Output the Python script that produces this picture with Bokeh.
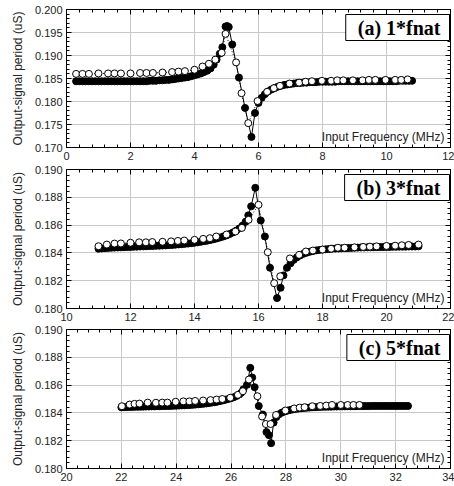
from bokeh.plotting import figure
from bokeh.models import (Range1d, LinearAxis, SingleIntervalTicker, NumeralTickFormatter, Label,
                          CustomJSTickFormatter)
from bokeh.layouts import column
from bokeh.embed import file_html
from bokeh.resources import INLINE

# ---------------- data ----------------
# panel (a) 1*fnat
B1_X = [0.3, 0.4, 0.5, 0.6, 0.7, 0.8, 0.9, 1.0, 1.1, 1.2, 1.3, 1.4, 1.5, 1.6, 1.7, 1.8, 1.9, 2.0, 2.1, 2.2, 2.3, 2.4, 2.5,
        2.6, 2.7, 2.8, 2.9, 3.0, 3.1, 3.2, 3.3, 3.4, 3.5, 3.6, 3.7, 3.8, 3.9, 4.0, 4.1, 4.2, 4.3, 4.4, 4.5,
        4.6, 4.69, 4.79, 4.87, 4.97, 5.02, 5.07, 5.18, 5.39, 5.58, 5.78, 5.89,
        6.0, 6.1, 6.2, 6.3, 6.4, 6.5, 6.6, 6.7, 6.8, 6.9, 7.0, 7.1, 7.2, 7.3, 7.4, 7.5, 7.6, 7.7, 7.8, 7.9,
        8.0, 8.1, 8.2, 8.3, 8.4, 8.5, 8.6, 8.7, 8.8, 8.9, 9.0, 9.1, 9.2, 9.3, 9.4, 9.5, 9.6, 9.7, 9.8, 9.9,
        10.0, 10.1, 10.2, 10.3, 10.4, 10.5, 10.6, 10.7, 10.8]
B1_Y = [0.1844, 0.1844, 0.1844, 0.1844, 0.1844, 0.1844, 0.1844, 0.1844, 0.1844, 0.1844, 0.1844, 0.1844, 0.1844,
        0.1844, 0.1844, 0.1844, 0.1844, 0.1844, 0.1844, 0.1844, 0.1844, 0.1844, 0.1844,
        0.1845, 0.1845, 0.1845, 0.1846, 0.1846, 0.1847, 0.1847, 0.1848, 0.1849, 0.1850, 0.1851, 0.1852, 0.1853,
        0.1855, 0.1857, 0.1859, 0.1861, 0.1864, 0.1867, 0.1872,
        0.1880, 0.1891, 0.1904, 0.1918, 0.1963, 0.1964, 0.1962, 0.1924, 0.1852, 0.1786, 0.1723, 0.1775,
        0.1797, 0.1808, 0.1816, 0.1822, 0.1826, 0.1829, 0.1832, 0.1834, 0.1836, 0.1837,
        0.1838, 0.1839, 0.1840, 0.1840, 0.1841, 0.1841, 0.1842, 0.1842, 0.1842, 0.1843,
        0.1843, 0.1843, 0.1843, 0.1843, 0.1843, 0.1844, 0.1844, 0.1844, 0.1844, 0.1844,
        0.1844, 0.1844, 0.1844, 0.1844, 0.1844, 0.1844, 0.1844, 0.1844, 0.1844, 0.1844,
        0.1844, 0.1844, 0.1844, 0.1844, 0.1845, 0.1845, 0.1845, 0.1845, 0.1845]
W1_X = [0.3, 0.5, 0.7, 1.0, 1.3, 1.5, 1.7, 2.0, 2.3, 2.5, 2.7, 3.0, 3.3, 3.5, 3.7, 4.0, 4.25, 4.45, 4.65, 4.85,
        4.97, 5.3, 5.47, 5.68, 5.97, 6.27, 6.48, 6.67, 6.97, 7.27, 7.47, 7.67, 7.98, 8.27, 8.46, 8.65, 8.95,
        9.25, 9.45, 9.65, 9.97, 10.27, 10.46, 10.66]
W1_Y = [0.1860, 0.1860, 0.1860, 0.1861, 0.1861, 0.1861, 0.1861, 0.1861, 0.1862, 0.1862, 0.1862, 0.1863, 0.1864,
        0.1865, 0.1866, 0.1869, 0.1876, 0.1882, 0.1891, 0.1906, 0.1947, 0.1885, 0.1818, 0.1753, 0.1801, 0.1821,
        0.1829, 0.1834, 0.1839, 0.1841, 0.1843, 0.1844, 0.1845, 0.1845, 0.1846, 0.1846, 0.1846, 0.1846, 0.1847,
        0.1847, 0.1847, 0.1847, 0.1847, 0.1848]

# panel (b) 3*fnat
B2_X = [11.0, 11.1, 11.2, 11.3, 11.4, 11.5, 11.6, 11.7, 11.8, 11.9, 12.0, 12.1, 12.2, 12.3, 12.4, 12.5, 12.6, 12.7,
        12.8, 12.9, 13.0, 13.1, 13.2, 13.3, 13.4, 13.5, 13.6, 13.7, 13.8, 13.9, 14.0, 14.1, 14.2, 14.3, 14.4,
        14.5, 14.6, 14.7, 14.8, 14.9,
        15.0, 15.1, 15.2, 15.3, 15.4, 15.5, 15.6, 15.68, 15.77, 15.9, 16.07, 16.2, 16.36, 16.58, 16.69, 16.78, 16.89,
        17.0, 17.1, 17.2, 17.3, 17.4, 17.5, 17.6, 17.7, 17.8, 17.9, 18.0, 18.1, 18.2, 18.3, 18.4, 18.5, 18.6,
        18.7, 18.8, 18.9, 19.0, 19.1, 19.2, 19.3, 19.4, 19.5, 19.6, 19.7, 19.8, 19.9, 20.0, 20.1, 20.2, 20.3,
        20.4, 20.5, 20.6, 20.7, 20.8, 20.9, 21.0]
B2_Y = [0.18430, 0.18432, 0.18434, 0.18436, 0.18437, 0.18438, 0.18439, 0.18440, 0.18441, 0.18442,
        0.18443, 0.18444, 0.18445, 0.18446, 0.18447, 0.18448, 0.18449, 0.18450, 0.18451, 0.18452,
        0.18453, 0.18454, 0.18456, 0.18457, 0.18459, 0.18461, 0.18463, 0.18465, 0.18467, 0.18470,
        0.18473, 0.18476, 0.18480, 0.18484, 0.18488, 0.18493, 0.18498, 0.18504, 0.18511, 0.18518,
        0.18526, 0.18536, 0.18547, 0.18560, 0.18576, 0.18596, 0.18625, 0.18670, 0.18735, 0.18868, 0.18633,
        0.18518, 0.18293, 0.18075, 0.18149, 0.18238, 0.18293,
        0.18325, 0.18350, 0.18368, 0.18382, 0.18393, 0.18401, 0.18408, 0.18413, 0.18418, 0.18421,
        0.18424, 0.18426, 0.18428, 0.18430, 0.18431, 0.18432, 0.18433, 0.18434, 0.18435, 0.18436,
        0.18437, 0.18438, 0.18439, 0.18439, 0.18440, 0.18440, 0.18441, 0.18441, 0.18442, 0.18442,
        0.18443, 0.18443, 0.18444, 0.18444, 0.18445, 0.18445, 0.18445, 0.18446, 0.18446, 0.18446,
        0.18447]
W2_X = [11.0, 11.26, 11.5, 11.7, 12.0, 12.27, 12.48, 12.68, 13.0, 13.27, 13.48, 13.68, 14.0, 14.27, 14.48, 14.68,
        15.0, 15.28, 15.48, 15.69, 16.0, 16.29, 16.49, 16.68, 16.98, 17.27, 17.48, 17.7, 18.0, 18.27, 18.48,
        18.69, 19.0, 19.27, 19.48, 19.69, 20.0, 20.27, 20.48, 20.69, 21.0]
W2_Y = [0.18448, 0.18460, 0.18467, 0.18468, 0.18473, 0.18476, 0.18476, 0.18478, 0.18480, 0.18483, 0.18486,
        0.18489, 0.18494, 0.18501, 0.18506, 0.18518, 0.18532, 0.18554, 0.18580, 0.18638, 0.18746, 0.18405,
        0.18182, 0.18232, 0.18360, 0.18386, 0.18410, 0.18417, 0.18424, 0.18430, 0.18437, 0.18437, 0.18440,
        0.18443, 0.18445, 0.18447, 0.18450, 0.18452, 0.18455, 0.18457, 0.18460]

# panel (c) 5*fnat
B3_X = [22.0, 22.1, 22.2, 22.3, 22.4, 22.5, 22.6, 22.7, 22.8, 22.9, 23.0, 23.1, 23.2, 23.3, 23.4, 23.5, 23.6, 23.7,
        23.8, 23.9, 24.0, 24.1, 24.2, 24.3, 24.4, 24.5, 24.6, 24.7, 24.8, 24.9, 25.0, 25.1, 25.2, 25.3, 25.4,
        25.5, 25.6, 25.7, 25.8, 25.9,
        26.0, 26.1, 26.2, 26.3, 26.37, 26.45, 26.58, 26.7, 26.77, 26.86, 27.01, 27.16, 27.29, 27.38, 27.46,
        27.55, 27.65, 27.75, 27.85,
        27.95, 28.05, 28.15, 28.25, 28.35, 28.45, 28.55, 28.65, 28.75, 28.85, 28.95, 29.05, 29.15, 29.25,
        29.35, 29.45, 29.55, 29.65, 29.75, 29.85, 29.95, 30.05, 30.15, 30.25, 30.35, 30.45, 30.55, 30.65,
        30.75, 30.85, 30.95, 31.05, 31.15, 31.25, 31.35, 31.45, 31.55, 31.65, 31.75, 31.85, 31.95, 32.05,
        32.15, 32.25, 32.35, 32.45]
B3_Y = [0.18440, 0.18441, 0.18442, 0.18443, 0.18443, 0.18444, 0.18444, 0.18445, 0.18445, 0.18446,
        0.18446, 0.18447, 0.18447, 0.18448, 0.18448, 0.18449, 0.18449, 0.18450, 0.18450, 0.18451,
        0.18452, 0.18453, 0.18454, 0.18455, 0.18456, 0.18457, 0.18458, 0.18460, 0.18462, 0.18464,
        0.18466, 0.18468, 0.18471, 0.18474, 0.18477, 0.18481, 0.18485, 0.18490, 0.18495, 0.18500,
        0.18506, 0.18513, 0.18522, 0.18533, 0.18545, 0.18570, 0.18602, 0.18724, 0.18655, 0.18585, 0.18450,
        0.18388, 0.18262, 0.18240, 0.18182, 0.18330, 0.18370, 0.18390, 0.18402,
        0.18410, 0.18416, 0.18421, 0.18425, 0.18428, 0.18431, 0.18433, 0.18435, 0.18437, 0.18438,
        0.18440, 0.18441, 0.18442, 0.18443, 0.18444, 0.18444, 0.18445, 0.18445, 0.18446, 0.18446,
        0.18447, 0.18447, 0.18447, 0.18448, 0.18448, 0.18448, 0.18448, 0.18449, 0.18449, 0.18449,
        0.18449, 0.18449, 0.18450, 0.18450, 0.18450, 0.18450, 0.18450, 0.18450, 0.18450, 0.18450,
        0.18450, 0.18450, 0.18450, 0.18450, 0.18450, 0.18450]
W3_X = [22.02, 22.3, 22.48, 22.66, 22.96, 23.26, 23.49, 23.68, 23.98, 24.26, 24.48, 24.69, 24.98, 25.25, 25.47,
        25.68, 25.97, 26.25, 26.43, 26.65, 26.96, 27.13, 27.27, 27.44, 27.64, 27.98, 28.3, 28.5, 28.68, 28.96,
        29.25, 29.47, 29.68, 30.0, 30.25, 30.46, 30.68]
W3_Y = [0.18448, 0.18460, 0.18465, 0.18467, 0.18474, 0.18473, 0.18474, 0.18474, 0.18480, 0.18483, 0.18483,
        0.18486, 0.18489, 0.18492, 0.18496, 0.18500, 0.18509, 0.18530, 0.18556, 0.18640, 0.18520, 0.18374,
        0.18320, 0.18320, 0.18385, 0.18417, 0.18432, 0.18438, 0.18441, 0.18448, 0.18450, 0.18453, 0.18457,
        0.18457, 0.18457, 0.18457, 0.18457]

TAGS = ["(a) 1*fnat", "(b) 3*fnat", "(c) 5*fnat"]
X_RANGES = [(0, 12), (10, 22), (20, 34)]
Y_RANGES = [(0.170, 0.200), (0.180, 0.190), (0.180, 0.190)]
Y_STEPS = [0.005, 0.002, 0.002]
X_TITLE = "Input Frequency (MHz)"
Y_TITLE = "Output-signal period (uS)"

SANS = "Liberation Sans"
SERIF = "Liberation Serif"
W = 454
BL, BR = 66, 4
BOTTOM = 15


def style_axis(ax, ticker, show_labels):
    ax.ticker = ticker
    ax.axis_line_color = "black"
    ax.major_tick_line_color = "black"
    ax.minor_tick_line_color = "black"
    ax.major_tick_in = 5
    ax.major_tick_out = 0
    ax.minor_tick_in = 3
    ax.minor_tick_out = 0
    if show_labels:
        ax.major_label_text_font = SANS
        ax.major_label_text_font_size = "11px"
        ax.major_label_text_color = "#222222"
        ax.major_label_standoff = 4
    else:
        ax.formatter = CustomJSTickFormatter(code="return ''")
        ax.major_label_text_font_size = "0px"
        ax.major_label_standoff = 0


def make_panel(i, bx, by, wx, wy, top, frame_h):
    xr, yr = X_RANGES[i], Y_RANGES[i]
    p = figure(width=W, height=top + frame_h + BOTTOM, x_range=Range1d(*xr), y_range=Range1d(*yr),
               output_backend="svg", toolbar_location=None,
               min_border_left=BL, min_border_right=BR, min_border_top=top, min_border_bottom=BOTTOM)
    p.background_fill_color = "white"
    p.border_fill_color = "white"
    p.outline_line_color = "black"
    p.outline_line_width = 1

    xt = SingleIntervalTicker(interval=2, num_minor_ticks=5)
    yt = SingleIntervalTicker(interval=Y_STEPS[i], num_minor_ticks=5)
    style_axis(p.xaxis[0], xt, True)
    style_axis(p.yaxis[0], yt, True)
    p.yaxis[0].formatter = NumeralTickFormatter(format="0.000")
    p.yaxis[0].axis_label = Y_TITLE
    p.yaxis[0].axis_label_text_font = SANS
    p.yaxis[0].axis_label_text_font_size = "12px"
    p.yaxis[0].axis_label_text_font_style = "normal"
    p.yaxis[0].axis_label_text_color = "#222222"
    p.yaxis[0].axis_label_standoff = 7

    ra = LinearAxis()
    style_axis(ra, SingleIntervalTicker(interval=Y_STEPS[i], num_minor_ticks=5), False)
    p.add_layout(ra, "right")
    ta = LinearAxis()
    style_axis(ta, SingleIntervalTicker(interval=2, num_minor_ticks=5), False)
    p.add_layout(ta, "above")

    p.xgrid.ticker = xt
    p.ygrid.ticker = yt
    p.xgrid.grid_line_color = "#c8c8c8"
    p.ygrid.grid_line_color = "#c8c8c8"

    p.line(bx, by, line_color="black", line_width=1)
    p.scatter(bx, by, size=7, marker="circle", fill_color="black", line_color="black")
    p.line(wx, wy, line_color="black", line_width=1, line_dash="1 2")
    p.scatter(wx, wy, size=7, marker="circle", fill_color="white", line_color="black", line_width=1)

    xpp = (xr[1] - xr[0]) / (W - BL - BR)
    ypp = (yr[1] - yr[0]) / frame_h
    p.add_layout(Label(x=xr[1] - 6 * xpp, y=yr[0] + 4 * ypp, text=X_TITLE, text_align="right",
                       text_baseline="bottom", text_font=SANS, text_font_size="12px", text_color="#222222"))
    p.add_layout(Label(x=xr[1] - 1 * xpp, y=yr[1] - 5 * ypp, text=TAGS[i], text_align="right",
                       text_baseline="top", text_font=SERIF, text_font_style="bold", text_font_size="20px",
                       text_color="black", background_fill_color="white", border_line_color="black",
                       border_line_width=1, padding=dict(left=12, right=9, top=2, bottom=2)))
    return p


p1 = make_panel(0, B1_X, B1_Y, W1_X, W1_Y, 9, 138)
p2 = make_panel(1, B2_X, B2_Y, W2_X, W2_Y, 7, 139)
p3 = make_panel(2, B3_X, B3_Y, W3_X, W3_Y, 6, 139)

layout = column(p1, p2, p3, spacing=0)
open("out.html", "w").write(file_html(layout, INLINE))
